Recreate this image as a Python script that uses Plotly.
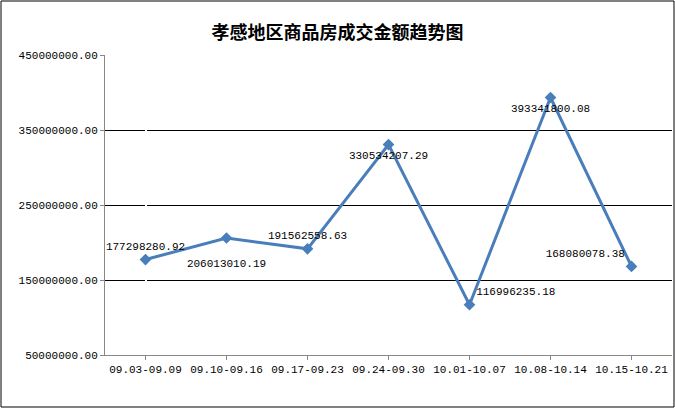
import plotly.graph_objects as go

categories = ["09.03-09.09", "09.10-09.16", "09.17-09.23", "09.24-09.30", "10.01-10.07", "10.08-10.14", "10.15-10.21"]
values = [177298280.92, 206013010.19, 191562558.63, 330534207.29, 116996235.18, 393341800.08, 168080078.38]
labels = ["177298280.92", "<br>206013010.19", "191562558.63", "330534207.29", "116996235.18", "393341800.08", "168080078.38"]
label_pos = ["top center", "bottom center", "top center", "bottom center", "top right", "bottom center", "top left"]
tick_vals = [50000000, 150000000, 250000000, 350000000, 450000000]
tick_text = ["50000000.00", "150000000.00", "250000000.00", "350000000.00", "450000000.00"]

fnt = "Liberation Mono, monospace"
fig = go.Figure(go.Scatter(
    x=list(range(len(categories))), y=values, mode="lines+markers+text",
    line=dict(color="#4a7ebb", width=3),
    marker=dict(symbol="diamond", size=9, color="#4a7ebb"),
    text=labels, textposition=label_pos,
    textfont=dict(family=fnt, size=11, color="black"),
    cliponaxis=False,
))
fig.update_layout(
    width=675, height=408, margin=dict(l=105, r=3, t=55, b=53),
    paper_bgcolor="white", plot_bgcolor="white", showlegend=False,
    title=dict(text="<b>孝感地区商品房成交金额趋势图</b>", x=0.5, y=0.935, xanchor="center",
               font=dict(family="Noto Sans CJK SC", size=18, color="black")),
    xaxis=dict(range=[-0.5, 6.5], tickvals=list(range(len(categories))), ticktext=categories,
               automargin=False, showgrid=False, showline=True, linecolor="#888", ticks="outside", ticklen=4,
               tickcolor="#888", tickfont=dict(family=fnt, size=11, color="black")),
    yaxis=dict(range=[50000000, 450000000], tickvals=tick_vals, ticktext=tick_text, automargin=False,
               showgrid=True, gridcolor="black", gridwidth=1, showline=True, linecolor="#888",
               ticks="outside", ticklen=4, tickcolor="#888", zeroline=False,
               tickfont=dict(family=fnt, size=11, color="black")),
    shapes=[dict(type="rect", xref="paper", yref="paper", x0=-104/567, x1=1+2/567, y0=-52/300, y1=1+54/300,
                 line=dict(color="black", width=1))],
)
fig.write_html("out.html", config={"displayModeBar": False},
               post_script="document.body.style.margin='0';document.body.style.overflow='hidden';")
